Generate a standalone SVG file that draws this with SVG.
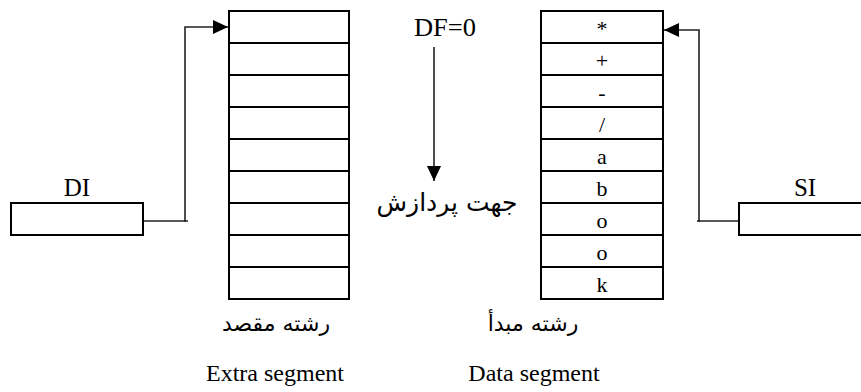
<svg xmlns="http://www.w3.org/2000/svg" width="861" height="392" viewBox="0 0 861 392">
<style>
.box{fill:#fff;stroke:#000;stroke-width:2}
.row{stroke:#000;stroke-width:2}
.conn{fill:none;stroke:#222;stroke-width:1.6}
.t{font-family:"Liberation Serif","Times New Roman",serif;fill:#000;text-anchor:middle}
.lbl{font-size:24px}
.cell{font-size:22px}
.fa{font-family:"DejaVu Sans",sans-serif;fill:#000;text-anchor:middle;direction:rtl}
</style>
<defs>
<marker id="arr" markerUnits="userSpaceOnUse" markerWidth="16" markerHeight="16" viewBox="0 0 16 16" refX="15" refY="8" orient="auto">
<path d="M0,1 L15,8 L0,15 Z" fill="#000"/>
</marker>
</defs>
<g id="connectors">
<path class="conn" d="M142,221 H188 M185,222 V27 H228" marker-end="url(#arr)"/>
<path class="conn" d="M739,221 H697 M699,222 V30 H664" marker-end="url(#arr)"/>
<path class="conn" d="M434,47 V181" marker-end="url(#arr)"/>
</g>
<g id="extra-segment">
<rect class="box" x="229" y="11" width="120" height="288"/>
<path class="row" d="M229,43H349M229,75H349M229,107H349M229,139H349M229,171H349M229,203H349M229,235H349M229,267H349"/>
</g>
<g id="data-segment">
<rect class="box" x="541" y="11" width="122" height="288"/>
<path class="row" d="M541,43H663M541,75H663M541,107H663M541,139H663M541,171H663M541,203H663M541,235H663M541,267H663"/>
<g class="t cell">
<text x="602" y="36">*</text>
<text x="602" y="68">+</text>
<text x="602" y="100">-</text>
<text x="602" y="132">/</text>
<text x="602" y="164">a</text>
<text x="602" y="196">b</text>
<text x="602" y="228">o</text>
<text x="602" y="260">o</text>
<text x="602" y="292">k</text>
</g>
</g>
<g id="di">
<rect class="box" x="11" y="203" width="132" height="32"/>
<text class="t" font-size="25" x="77" y="196">DI</text>
</g>
<g id="si">
<rect class="box" x="739" y="203" width="124" height="32"/>
<text class="t" font-size="25" x="805" y="196">SI</text>
</g>
<g id="direction">
<text class="t" font-size="25" x="445" y="36" textLength="62" lengthAdjust="spacingAndGlyphs">DF=0</text>
<text class="fa" font-size="25" x="447" y="211">جهت پردازش</text>
</g>
<g id="labels">
<text class="fa" font-size="22" x="276" y="331">رشته مقصد</text>
<text class="fa" font-size="22" x="533" y="331">رشته مبدأ</text>
<text class="t lbl" x="275" y="381">Extra segment</text>
<text class="t lbl" x="534" y="381">Data segment</text>
</g>
</svg>
